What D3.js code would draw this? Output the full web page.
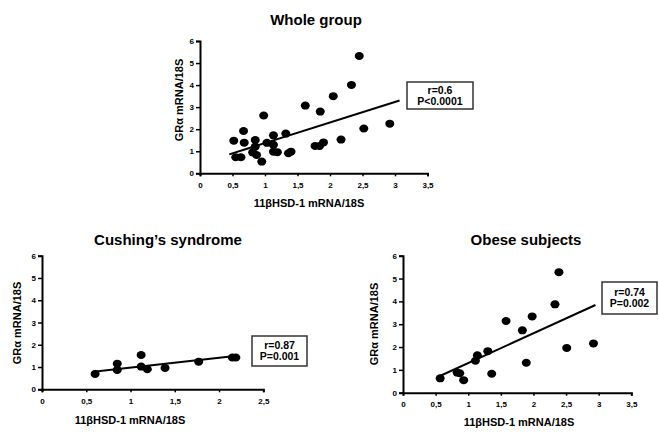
<!DOCTYPE html>
<html lang="en">
<head>
<meta charset="UTF-8">
<title>11bHSD-1 vs GRa</title>
<script src="https://cdn.jsdelivr.net/npm/d3@7"></script>
<style>
  body { margin: 0; background: #fff; }
  text { font-family: "Liberation Sans", Arial, sans-serif; font-weight: bold; fill: #000; }
</style>
</head>
<body>
<div id="chart"></div>
<script>
// whole group
const wholeX = [0.52, 0.55, 0.63, 0.67, 0.68, 0.85, 0.85, 0.81, 0.87, 0.95, 0.98, 1.03, 1.13, 1.13, 1.13,
                1.19, 1.32, 1.36, 1.40, 1.62, 1.77, 1.84, 1.90, 1.85, 2.05, 2.17, 2.33, 2.45, 2.52, 2.92];
const wholeY = [1.48, 0.73, 0.73, 1.92, 1.39, 1.51, 1.21, 0.95, 0.83, 0.53, 2.62, 1.38, 1.72, 1.29, 0.98,
                0.96, 1.80, 0.91, 0.98, 3.07, 1.24, 1.24, 1.40, 2.80, 3.50, 1.53, 4.01, 5.32, 2.03, 2.25];
const wholeFitX = [0.45, 3.07];
const wholeFitY = [0.86, 3.30];

// Cushing's syndrome
const cushX = [0.60, 0.85, 0.85, 1.12, 1.12, 1.19, 1.39, 1.77, 2.15, 2.19];
const cushY = [0.69, 1.15, 0.87, 1.54, 1.02, 0.90, 0.96, 1.24, 1.43, 1.43];
const cushFitX = [0.58, 2.18];
const cushFitY = [0.79, 1.50];

// obese subjects
const obeseX = [0.57, 0.83, 0.87, 0.93, 1.11, 1.14, 1.30, 1.36, 1.58, 1.83, 1.89, 1.98, 2.33, 2.39, 2.51, 2.92];
const obeseY = [0.63, 0.88, 0.85, 0.55, 1.40, 1.64, 1.82, 0.83, 3.14, 2.73, 1.31, 3.34, 3.87, 5.28, 1.96, 2.16];
const obeseFitX = [0.54, 2.95];
const obeseFitY = [0.70, 3.84];

const yTicks = [0, 1, 2, 3, 4, 5, 6];
const xTicksLong = [0, 0.5, 1, 1.5, 2, 2.5, 3, 3.5];
const xTicksShort = [0, 0.5, 1, 1.5, 2, 2.5];

const svg = d3.select('#chart').append('svg')
    .attr('width', 659)
    .attr('height', 434);

// comma as decimal mark
const fmt = d3.formatLocale({decimal: ',', thousands: '.', grouping: [3], currency: ['', '']}).format('');

const panels = [
    {title: 'Whole group', titleX: 316, titleY: 25, xs: wholeX, ys: wholeY, fitX: wholeFitX, fitY: wholeFitY,
     xTicks: xTicksLong, left: 200, right: 427.5, top: 41, bottom: 173.3,
     yLab: [179, 100], xLab: [309, 207], stats: ['r=0.6', 'P<0.0001'], box: [407, 82, 66, 27]},
    {title: 'Cushing\u2019s syndrome', titleX: 168, titleY: 245, xs: cushX, ys: cushY, fitX: cushFitX, fitY: cushFitY,
     xTicks: xTicksShort, left: 42, right: 263.3, top: 255.7, bottom: 389.3,
     yLab: [17, 323], xLab: [130, 424], stats: ['r=0.87', 'P=0.001'], box: [252, 336, 55, 30]},
    {title: 'Obese subjects', titleX: 526, titleY: 245, xs: obeseX, ys: obeseY, fitX: obeseFitX, fitY: obeseFitY,
     xTicks: xTicksLong, left: 403, right: 631.3, top: 255.7, bottom: 392.7,
     yLab: [374, 324], xLab: [519, 426], stats: ['r=0.74', 'P=0.002'], box: [602, 282, 55, 32]}
];

panels.forEach(p => {
    const g = svg.append('g');
    const xMax = p.xTicks[p.xTicks.length - 1];

    const x = d3.scaleLinear().domain([0, xMax]).range([p.left, p.right]);
    const y = d3.scaleLinear().domain([0, 6]).range([p.bottom, p.top]);

    // title
    g.append('text')
        .attr('x', p.titleX)
        .attr('y', p.titleY)
        .attr('text-anchor', 'middle')
        .style('font-size', '15px')
        .text(p.title);

    // axes
    const yAxis = g.append('g')
        .attr('transform', `translate(${p.left},0)`)
        .call(d3.axisLeft(y).tickValues(yTicks).tickSize(4).tickPadding(2).tickFormat(d3.format('d')));
    const xAxis = g.append('g')
        .attr('transform', `translate(0,${p.bottom})`)
        .call(d3.axisBottom(x).tickValues(p.xTicks).tickSize(3).tickPadding(6).tickFormat(fmt));

    [xAxis, yAxis].forEach(a => {
        a.select('.domain').attr('stroke', '#000').attr('stroke-width', 2);
        a.selectAll('.tick line').attr('stroke', '#000').attr('stroke-width', 1.5);
        a.selectAll('.tick text')
            .style('font-family', '"Liberation Sans", Arial, sans-serif')
            .style('font-weight', 'bold')
            .style('font-size', '8px')
            .attr('fill', '#000');
    });

    // axis titles
    g.append('text')
        .attr('x', p.xLab[0])
        .attr('y', p.xLab[1])
        .attr('text-anchor', 'middle')
        .style('font-size', '11px')
        .text('11\u03b2HSD-1 mRNA/18S');
    g.append('text')
        .attr('transform', `translate(${p.yLab[0]},${p.yLab[1]}) rotate(-90)`)
        .attr('text-anchor', 'middle')
        .attr('dy', '0.35em')
        .style('font-size', '11px')
        .text('GR\u03b1 mRNA/18S');

    // regression line
    g.append('path')
        .datum(d3.zip(p.fitX, p.fitY))
        .attr('fill', 'none')
        .attr('stroke', '#000')
        .attr('stroke-width', 2)
        .attr('d', d3.line().x(d => x(d[0])).y(d => y(d[1])));

    // points
    g.append('g')
        .selectAll('ellipse')
        .data(d3.zip(p.xs, p.ys))
        .join('ellipse')
        .attr('cx', d => x(d[0]))
        .attr('cy', d => y(d[1]))
        .attr('rx', 4.5)
        .attr('ry', 4)
        .attr('fill', '#000');

    // stats box
    g.append('rect')
        .attr('x', p.box[0])
        .attr('y', p.box[1])
        .attr('width', p.box[2])
        .attr('height', p.box[3])
        .attr('fill', '#fff')
        .attr('stroke', '#333')
        .attr('stroke-width', 1.5);
    p.stats.forEach((s, i) => {
        g.append('text')
            .attr('x', p.box[0] + p.box[2] / 2)
            .attr('y', p.box[1] + p.box[3] / 2 + (i === 0 ? -2 : 9))
            .attr('text-anchor', 'middle')
            .style('font-size', '10.5px')
            .text(s);
    });
});
</script>
</body>
</html>
